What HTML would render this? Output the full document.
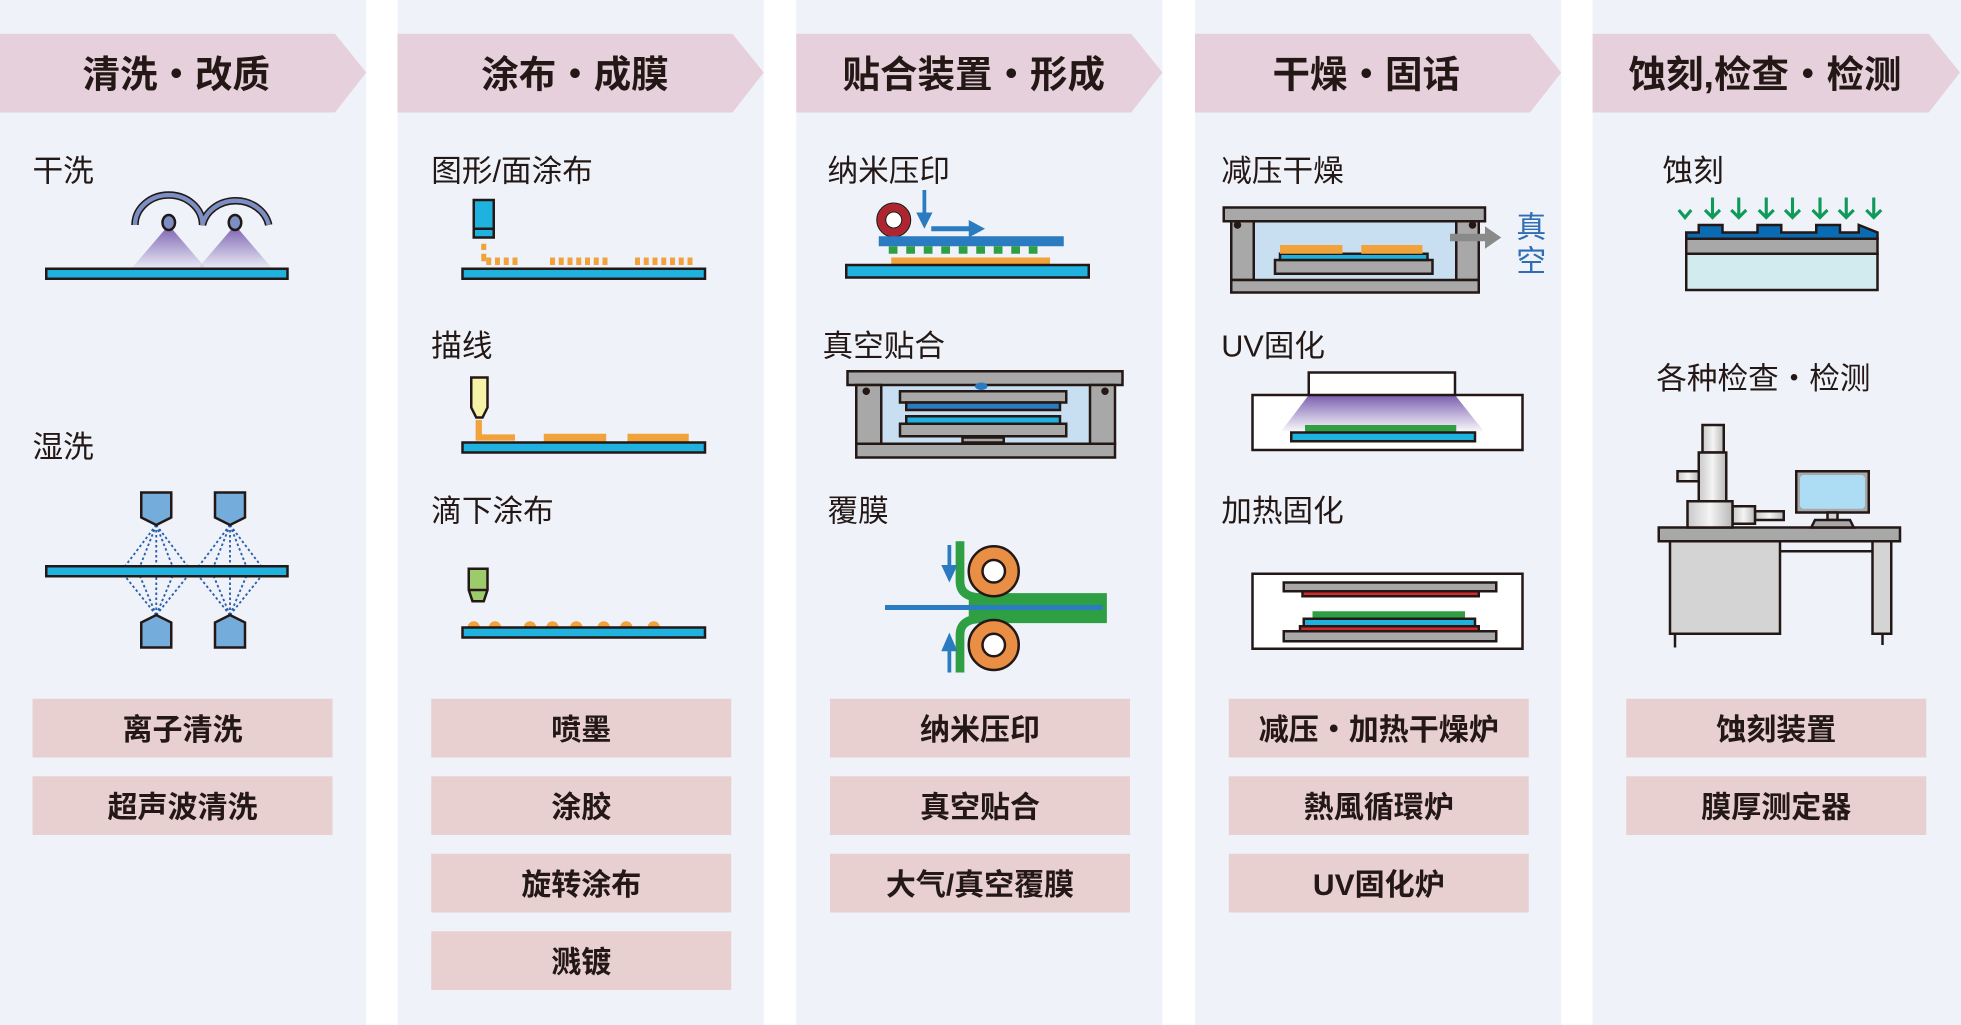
<!DOCTYPE html>
<html><head><meta charset="utf-8"><style>
html,body{margin:0;padding:0;background:#fff;}
svg{display:block;font-family:"Liberation Sans","Noto Sans CJK SC",sans-serif;}
.h{font-size:30px;font-weight:bold;fill:#231815;text-anchor:middle;}
.l{font-size:24.5px;fill:#231815;}
.b{font-size:24px;font-weight:bold;fill:#231815;text-anchor:middle;}
.s{stroke:#231815;stroke-width:2;}
</style></head><body>
<svg width="1961" height="1025" viewBox="0 0 1568.8 820" xmlns="http://www.w3.org/2000/svg">
<defs>
<linearGradient id="pg" x1="0" y1="0" x2="0" y2="1"><stop offset="0" stop-color="#7a5fb0"/><stop offset="1" stop-color="#7a5fb0" stop-opacity="0.05"/></linearGradient>
<linearGradient id="mg" x1="0" y1="0" x2="1" y2="0"><stop offset="0" stop-color="#c8c8c8"/><stop offset="0.5" stop-color="#f4f4f4"/><stop offset="1" stop-color="#b8b8b8"/></linearGradient>
</defs>
<rect width="1568.8" height="820" fill="#fff"/>
<g fill="#eff3f9">
<rect x="0" y="0" width="293" height="820"/><rect x="318" y="0" width="293" height="820"/><rect x="637" y="0" width="293" height="820"/><rect x="956" y="0" width="293" height="820"/><rect x="1274" y="0" width="294.8" height="820"/>
</g>
<g fill="#e6d0dc">
<polygon points="0,27 268,27 293,58 268,90 0,90"/>
<polygon points="318,27 586,27 611,58 586,90 318,90"/>
<polygon points="637,27 905,27 930,58 905,90 637,90"/>
<polygon points="956,27 1224,27 1249,58 1224,90 956,90"/>
<polygon points="1274,27 1543,27 1568,58 1543,90 1274,90"/>
</g>
<text class="h" x="141" y="70">清洗・改质</text>
<text class="h" x="460" y="70">涂布・成膜</text>
<text class="h" x="779" y="70">贴合装置・形成</text>
<text class="h" x="1093" y="70">干燥・固话</text>
<text class="h" x="1412" y="70">蚀刻,检查・检测</text>

<g fill="#e8cfd0">
<rect x="26" y="559" width="240" height="47"/><rect x="26" y="621" width="240" height="47"/>
<rect x="345" y="559" width="240" height="47"/><rect x="345" y="621" width="240" height="47"/><rect x="345" y="683" width="240" height="47"/><rect x="345" y="745" width="240" height="47"/>
<rect x="664" y="559" width="240" height="47"/><rect x="664" y="621" width="240" height="47"/><rect x="664" y="683" width="240" height="47"/>
<rect x="983" y="559" width="240" height="47"/><rect x="983" y="621" width="240" height="47"/><rect x="983" y="683" width="240" height="47"/>
<rect x="1301" y="559" width="240" height="47"/><rect x="1301" y="621" width="240" height="47"/>
</g>
<text class="b" x="146" y="592">离子清洗</text><text class="b" x="146" y="654">超声波清洗</text>
<text class="b" x="465" y="592">喷墨</text><text class="b" x="465" y="654">涂胶</text><text class="b" x="465" y="716">旋转涂布</text><text class="b" x="465" y="778">溅镀</text>
<text class="b" x="784" y="592">纳米压印</text><text class="b" x="784" y="654">真空贴合</text><text class="b" x="784" y="716">大气/真空覆膜</text>
<text class="b" x="1103" y="592">减压・加热干燥炉</text><text class="b" x="1103" y="654">熱風循環炉</text><text class="b" x="1103" y="716">UV固化炉</text>
<text class="b" x="1421" y="592">蚀刻装置</text><text class="b" x="1421" y="654">膜厚测定器</text>

<text class="l" x="26" y="145">干洗</text>
<text class="l" x="26" y="366">湿洗</text>
<text class="l" x="345" y="145">图形/面涂布</text>
<text class="l" x="345" y="285">描线</text>
<text class="l" x="345" y="417">滴下涂布</text>
<text class="l" x="662" y="145">纳米压印</text>
<text class="l" x="658" y="285">真空贴合</text>
<text class="l" x="662" y="417">覆膜</text>
<text class="l" x="977" y="145">减压干燥</text>
<text class="l" x="977" y="285">UV固化</text>
<text class="l" x="977" y="417">加热固化</text>
<text class="l" x="1330" y="145">蚀刻</text>
<text class="l" x="1325" y="311">各种检查・检测</text>

<polygon points="135,180 105,215 165,215" fill="url(#pg)"/>
<polygon points="188,180 158,215 218,215" fill="url(#pg)"/>
<path d="M108,180 A27,24 0 0 1 162,180 A27,24 0 0 1 215,180" fill="none" stroke="#231815" stroke-width="6"/>
<path d="M108,180 A27,24 0 0 1 162,180 A27,24 0 0 1 215,180" fill="none" stroke="#7b8fc4" stroke-width="3.5"/>
<ellipse cx="135" cy="178" rx="5" ry="6" fill="#7b8fc4" class="s" stroke-width="1.5"/>
<ellipse cx="188" cy="178" rx="5" ry="6" fill="#7b8fc4" class="s" stroke-width="1.5"/>
<rect x="37" y="215" width="193" height="8" fill="#1fb2de" class="s"/>
<g stroke="#2a5fb0" stroke-width="1.5" stroke-dasharray="2,2" fill="none">
<path d="M125,420 L100,453 M125,420 L112,453 M125,420 L125,453 M125,420 L138,453 M125,420 L150,453"/>
<path d="M184,420 L159,453 M184,420 L171,453 M184,420 L184,453 M184,420 L197,453 M184,420 L209,453"/>
<path d="M125,492 L100,461 M125,492 L112,461 M125,492 L125,461 M125,492 L138,461 M125,492 L150,461"/>
<path d="M184,492 L159,461 M184,492 L171,461 M184,492 L184,461 M184,492 L197,461 M184,492 L209,461"/>
</g>
<g fill="#74acdc" class="s" stroke-width="1.5">
<polygon points="113,394 137,394 137,414 125,420 113,414"/>
<polygon points="172,394 196,394 196,414 184,420 172,414"/>
<polygon points="113,518 137,518 137,498 125,492 113,498"/>
<polygon points="172,518 196,518 196,498 184,492 172,498"/>
</g>
<rect x="37" y="453" width="193" height="8" fill="#1fb2de" class="s"/>

<rect x="379" y="160" width="16" height="30" fill="#1fb2de" class="s"/>
<line x1="379" y1="183" x2="395" y2="183" class="s"/>
<g fill="#f2a23a">
<rect x="385" y="195" width="4" height="5"/><rect x="385" y="203" width="4" height="6"/>
<rect x="389" y="206" width="4" height="6"/><rect x="396" y="206" width="4" height="6"/><rect x="403" y="206" width="4" height="6"/><rect x="410" y="206" width="4" height="6"/>
<rect x="440" y="206" width="4" height="6"/><rect x="447" y="206" width="4" height="6"/><rect x="454" y="206" width="4" height="6"/><rect x="461" y="206" width="4" height="6"/><rect x="468" y="206" width="4" height="6"/><rect x="475" y="206" width="4" height="6"/><rect x="482" y="206" width="4" height="6"/>
<rect x="508" y="206" width="4" height="6"/><rect x="515" y="206" width="4" height="6"/><rect x="522" y="206" width="4" height="6"/><rect x="529" y="206" width="4" height="6"/><rect x="536" y="206" width="4" height="6"/><rect x="543" y="206" width="4" height="6"/><rect x="550" y="206" width="4" height="6"/>
</g>
<rect x="370" y="215" width="194" height="8" fill="#1fb2de" class="s"/>
<path d="M383,336 L383,350 L412,350" fill="none" stroke="#f2a23a" stroke-width="5"/>
<polygon points="377,302 390,302 390,326 386,334 381,334 377,326" fill="#f6f2a8" class="s" stroke-width="1.5"/>
<g fill="#f2a23a"><rect x="435" y="347" width="50" height="7"/><rect x="502" y="347" width="49" height="7"/></g>
<rect x="370" y="354" width="194" height="8" fill="#1fb2de" class="s"/>
<polygon points="375,455 390,455 390,472 387,481 378,481 375,472" fill="#9ccb6b" class="s" stroke-width="1.5"/>
<line x1="375" y1="472" x2="390" y2="472" class="s" stroke-width="1.5"/>
<g fill="#f2a23a">
<circle cx="379" cy="502" r="5"/><circle cx="396" cy="502" r="5"/><circle cx="424" cy="502" r="5"/><circle cx="442" cy="502" r="5"/><circle cx="461" cy="502" r="5"/><circle cx="483" cy="502" r="5"/><circle cx="501" cy="502" r="5"/><circle cx="523" cy="502" r="5"/>
</g>
<rect x="370" y="502" width="194" height="8" fill="#1fb2de" class="s"/>

<circle cx="715" cy="176" r="10" fill="#fff" stroke="#b0242f" stroke-width="6"/>
<circle cx="715" cy="176" r="13.5" fill="none" stroke="#231815" stroke-width="1"/>
<circle cx="715" cy="176" r="6.5" fill="none" stroke="#231815" stroke-width="1"/>
<g fill="#2a7bbf">
<rect x="738" y="152" width="3" height="20"/><polygon points="733,170 746,170 739.5,183"/>
<rect x="745" y="181" width="32" height="4"/><polygon points="775,176 788,183 775,190"/>
<rect x="703" y="189" width="148" height="8"/>
</g>
<g fill="#2ea043">
<rect x="711" y="197" width="7" height="6"/><rect x="725" y="197" width="7" height="6"/><rect x="739" y="197" width="7" height="6"/><rect x="753" y="197" width="7" height="6"/><rect x="767" y="197" width="7" height="6"/><rect x="781" y="197" width="7" height="6"/><rect x="795" y="197" width="7" height="6"/><rect x="809" y="197" width="7" height="6"/><rect x="823" y="197" width="7" height="6"/>
</g>
<rect x="713" y="206" width="127" height="6" fill="#f2a23a"/>
<rect x="677" y="212" width="194" height="10" fill="#1fb2de" class="s"/>
<rect x="705" y="308" width="167" height="47" fill="#c8dff2"/>
<g fill="#a8a8a8" class="s">
<rect x="678" y="297" width="220" height="11"/>
<rect x="685" y="308" width="20" height="47"/><rect x="872" y="308" width="20" height="47"/>
<rect x="685" y="355" width="207" height="11"/>
<rect x="720" y="313" width="133" height="9"/><rect x="720" y="339" width="133" height="10"/>
</g>
<circle cx="693" cy="313" r="3" fill="#231815"/><circle cx="884" cy="313" r="3" fill="#231815"/>
<rect x="725" y="322" width="123" height="6" fill="#2a7bbf" class="s" stroke-width="1.5"/>
<rect x="725" y="333" width="123" height="6" fill="#1fb2de" class="s" stroke-width="1.5"/>
<ellipse cx="785" cy="309" rx="5" ry="3" fill="#2a7bbf"/>
<rect x="770" y="350" width="33" height="4" fill="#a8a8a8" class="s" stroke-width="1"/>
<path d="M768,433 L768,465 Q768,478 785,478 L882,478 L882,495 L785,495 Q768,495 768,508 L768,538" fill="none" stroke="#2ea043" stroke-width="7"/>
<rect x="775" y="478" width="107" height="17" fill="#2ea043"/>
<rect x="708" y="484" width="174" height="4" fill="#2a7bbf"/>
<circle cx="795" cy="457" r="20" fill="#e88e45" class="s"/><circle cx="795" cy="457" r="9" fill="#fff" class="s"/>
<circle cx="795" cy="516" r="20" fill="#e88e45" class="s"/><circle cx="795" cy="516" r="9" fill="#fff" class="s"/>
<g fill="#2a7bbf">
<rect x="758" y="436" width="3" height="18"/><polygon points="753,452 766,452 759.5,466"/>
<rect x="758" y="520" width="3" height="18"/><polygon points="753,521 766,521 759.5,506"/>
</g>

<rect x="1003" y="177" width="162" height="47" fill="#c8dff2"/>
<g fill="#a8a8a8" class="s">
<rect x="979" y="166" width="209" height="11"/>
<rect x="985" y="177" width="18" height="47"/><rect x="1165" y="177" width="18" height="47"/>
<rect x="985" y="224" width="198" height="10"/>
<rect x="1020" y="208" width="126" height="11"/>
</g>
<circle cx="990" cy="180" r="3" fill="#231815"/><circle cx="1178" cy="180" r="3" fill="#231815"/>
<rect x="1024" y="203" width="118" height="5" fill="#1fb2de" class="s" stroke-width="1.5"/>
<rect x="1024" y="196" width="50" height="7" fill="#f2a23a"/><rect x="1089" y="196" width="49" height="7" fill="#f2a23a"/>
<rect x="1160" y="187" width="30" height="6" fill="#8a8a8a"/><polygon points="1188,181 1201,190 1188,199" fill="#8a8a8a"/>
<text x="1213" y="190" font-size="24" fill="#2f6db5">真</text>
<text x="1213" y="217" font-size="24" fill="#2f6db5">空</text>
<rect x="1002" y="316" width="216" height="44" fill="#fff" class="s"/>
<polygon points="1047,316 1164,316 1187,345 1025,345" fill="url(#pg)"/>
<rect x="1047" y="298" width="117" height="18" fill="#fff" class="s"/>
<rect x="1044" y="340" width="121" height="6" fill="#2ea043"/>
<rect x="1033" y="346" width="147" height="7" fill="#1fb2de" class="s" stroke-width="1.5"/>
<rect x="1002" y="459" width="216" height="60" fill="#fff" class="s"/>
<rect x="1027" y="466" width="170" height="7" fill="#a8a8a8" class="s" stroke-width="1.5"/>
<rect x="1042" y="473" width="141" height="4" fill="#d22a2a" class="s" stroke-width="1"/>
<rect x="1050" y="489" width="122" height="6" fill="#2ea043"/>
<rect x="1043" y="495" width="137" height="6" fill="#1fb2de" class="s" stroke-width="1.5"/>
<rect x="1040" y="501" width="143" height="4" fill="#d22a2a" class="s" stroke-width="1"/>
<rect x="1027" y="505" width="170" height="8" fill="#a8a8a8" class="s" stroke-width="1.5"/>

<g stroke="#109a5a" stroke-width="2.5" fill="none">
<path d="M1343,168 L1348,174 L1353,168"/>
<path d="M1370,158 L1370,174 M1364,168 L1370,174 L1376,168"/>
<path d="M1391,158 L1391,174 M1385,168 L1391,174 L1397,168"/>
<path d="M1413,158 L1413,174 M1407,168 L1413,174 L1419,168"/>
<path d="M1434,158 L1434,174 M1428,168 L1434,174 L1440,168"/>
<path d="M1456,158 L1456,174 M1450,168 L1456,174 L1462,168"/>
<path d="M1477,158 L1477,174 M1471,168 L1477,174 L1483,168"/>
<path d="M1499,158 L1499,174 M1493,168 L1499,174 L1505,168"/>
</g>
<rect x="1349" y="203" width="153" height="29" fill="#d2ebee" class="s"/>
<rect x="1349" y="191" width="153" height="12" fill="#a8a8a8" class="s"/>
<path d="M1349,191 L1349,186 L1359,186 L1359,180 L1378,180 L1378,186 L1406,186 L1406,180 L1425,180 L1425,186 L1453,186 L1453,180 L1472,180 L1472,186 L1487,186 L1487,180 L1502,186 L1502,191 Z" fill="#0a6bb5" class="s" stroke-width="1.5"/>
<line x1="1340" y1="507" x2="1340" y2="518" class="s" stroke-width="2.5"/>
<line x1="1506" y1="507" x2="1506" y2="516" class="s" stroke-width="2.5"/>
<rect x="1336" y="433" width="88" height="74" fill="#d4d4d4" class="s"/>
<rect x="1498" y="433" width="15" height="74" fill="#d4d4d4" class="s"/>
<path d="M1424,441 L1498,441" class="s"/>
<rect x="1327" y="422" width="193" height="11" fill="#a8a8a8" class="s"/>
<rect x="1362" y="340" width="17" height="22" fill="url(#mg)" class="s"/>
<rect x="1342" y="377" width="17" height="8" fill="url(#mg)" class="s"/>
<rect x="1359" y="362" width="22" height="39" fill="url(#mg)" class="s"/>
<rect x="1404" y="409" width="23" height="7" fill="url(#mg)" class="s"/>
<rect x="1386" y="405" width="18" height="14" fill="url(#mg)" class="s"/>
<rect x="1350" y="401" width="36" height="21" fill="url(#mg)" class="s"/>
<rect x="1437" y="377" width="58" height="33" fill="#a8a8a8" class="s"/>
<rect x="1440" y="380" width="52" height="27" rx="3" fill="#addcf5"/>
<rect x="1462" y="410" width="8" height="6" fill="#d4d4d4" class="s" stroke-width="1.5"/>
<polygon points="1452,416 1480,416 1483,422 1449,422" fill="#a8a8a8" class="s" stroke-width="1.5"/>
</svg>
</body></html>
